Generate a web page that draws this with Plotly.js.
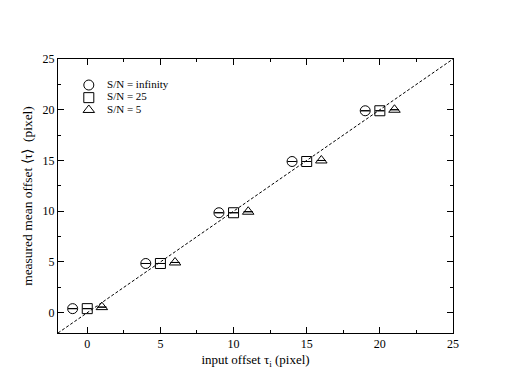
<!DOCTYPE html>
<html>
<head>
<meta charset="utf-8">
<script src="https://cdn.plot.ly/plotly-3.0.1.min.js"></script>
<style>html,body{margin:0;padding:0;background:#fff;}#chart{width:508px;height:392px;}</style>
</head>
<body>
<div id="chart"></div>
<script>
// Data
const xInf = [-1, 4, 9, 14, 19];
const yInf = [0.4, 4.85, 9.85, 14.9, 19.9];
const x25 = [0, 5, 10, 15, 20];
const y25 = [0.4, 4.85, 9.85, 14.9, 19.9];
const x5 = [1, 6, 11, 16, 21];
const y5 = [0.55, 4.95, 9.95, 15.0, 20.0];
const lineX = [-2, 25];
const lineY = [-2, 25];
const names = ['S/N = infinity', 'S/N = 25', 'S/N = 5'];
const symbols = ['circle-open', 'square-open', 'triangle-up-open'];
// legend placement (paper fractions of plot area)
const legX = [0.078, 0.078, 0.078];
const legY = [0.905, 0.859, 0.814];

const font = 'Liberation Serif, Times New Roman, serif';
function mk(x, y, sym, name) {
  return {
    x: x, y: y, type: 'scatter', mode: 'markers', name: name, showlegend: false,
    marker: {symbol: sym, size: 10, color: '#000', line: {color: '#000', width: 1}},
    error_y: {type: 'data', array: y.map(() => 0), visible: true, width: 4.5, thickness: 1, color: '#000'}
  };
}
const traces = [
  {x: lineX, y: lineY, type: 'scatter', mode: 'lines', showlegend: false,
   line: {color: '#000', width: 1, dash: '3px,2px'}, hoverinfo: 'skip'},
  mk(xInf, yInf, symbols[0], names[0]),
  mk(x25, y25, symbols[1], names[1]),
  mk(x5, y5, symbols[2], names[2]),
  {x: legX, y: legY, xaxis: 'x2', yaxis: 'y2', type: 'scatter', mode: 'markers+text',
   showlegend: false, text: names.map(n => '    ' + n), textposition: 'middle right',
   textfont: {family: font, size: 11, color: '#000'},
   marker: {symbol: symbols, size: 10, color: '#000', line: {color: '#000', width: 1}}, cliponaxis: false}
];
const ax = {
  range: [-2, 25], dtick: 5, tick0: 0, ticks: 'inside', ticklen: 6, tickwidth: 1, tickcolor: '#000',
  showline: true, linecolor: '#000', linewidth: 1, mirror: 'ticks', showgrid: false, zeroline: false,
  tickfont: {family: font, size: 12, color: '#000'},
  minor: {dtick: 2.5, ticks: 'inside', ticklen: 3, tickcolor: '#000', showgrid: false}
};
const hid = {range: [0, 1], visible: false, showgrid: false, zeroline: false, fixedrange: true};
const layout = {
  width: 508, height: 392,
  margin: {l: 58, r: 55, t: 59, b: 59},
  paper_bgcolor: '#fff', plot_bgcolor: '#fff',
  font: {family: font, color: '#000'},
  xaxis: Object.assign({}, ax, {title: {text: 'input offset τ<sub>i</sub> (pixel)', font: {family: font, size: 13}, standoff: 4}}),
  yaxis: Object.assign({}, ax, {title: {text: 'measured mean offset ⟨τ⟩  (pixel)', font: {family: font, size: 13.5}, standoff: 6}}),
  xaxis2: Object.assign({}, hid, {overlaying: 'x'}),
  yaxis2: Object.assign({}, hid, {overlaying: 'y'}),
  showlegend: false
};
Plotly.newPlot('chart', traces, layout, {displayModeBar: false, staticPlot: true});
</script>
</body>
</html>
